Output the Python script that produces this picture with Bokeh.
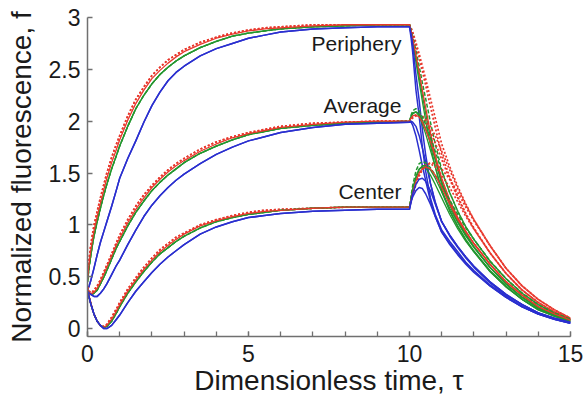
from bokeh.plotting import figure
from bokeh.models import Range1d, FixedTicker, CustomJSTickFormatter, Label
from bokeh.embed import file_html
from bokeh.resources import INLINE

# ---------------- data ----------------
t_rise = [0, 0.05, 0.1, 0.15, 0.2, 0.3, 0.4, 0.5, 0.6, 0.75, 0.9, 1.0, 1.25, 1.5, 1.75,
          2.0, 2.25, 2.5, 2.75, 3.0, 3.5, 4.0, 4.5, 5.0, 5.5, 6.0, 7.0, 8.0, 9.0, 10.0]
t_decay = [10.05, 10.1, 10.2, 10.3, 10.4, 10.5, 10.65, 10.8, 11.0, 11.25, 11.5, 11.75,
           12.0, 12.5, 13.0, 13.5, 14.0, 14.5, 15.0]

# loading phase (tau 0..10)
periphery_rise_red = [0.47, 0.63, 0.75, 0.85, 0.94, 1.08, 1.21, 1.33, 1.45, 1.60, 1.73, 1.82, 2.01, 2.17, 2.30,
                      2.41, 2.49, 2.56, 2.62, 2.67, 2.74, 2.80, 2.84, 2.87, 2.89, 2.90, 2.92, 2.93, 2.93, 2.93]
periphery_rise_green = [0.45, 0.59, 0.70, 0.80, 0.89, 1.03, 1.16, 1.28, 1.39, 1.54, 1.67, 1.76, 1.95, 2.12, 2.25,
                        2.36, 2.45, 2.52, 2.58, 2.63, 2.71, 2.77, 2.82, 2.85, 2.87, 2.89, 2.91, 2.92, 2.93, 2.93]
periphery_rise_dot = [0.50, 0.67, 0.80, 0.90, 0.99, 1.13, 1.26, 1.38, 1.50, 1.65, 1.78, 1.86, 2.05, 2.21, 2.33,
                      2.44, 2.52, 2.59, 2.64, 2.69, 2.76, 2.81, 2.85, 2.88, 2.90, 2.91, 2.93, 2.93, 2.93, 2.93]
periphery_rise_blue = [0.37, 0.41, 0.46, 0.52, 0.58, 0.71, 0.83, 0.93, 1.03, 1.18, 1.34, 1.45, 1.64, 1.81, 1.99,
                       2.15, 2.28, 2.39, 2.47, 2.53, 2.63, 2.70, 2.75, 2.80, 2.83, 2.86, 2.89, 2.90, 2.91, 2.91]

average_rise_red = [0.38, 0.35, 0.34, 0.34, 0.35, 0.39, 0.45, 0.52, 0.59, 0.70, 0.81, 0.87, 1.02, 1.15, 1.26,
                    1.36, 1.44, 1.51, 1.57, 1.62, 1.71, 1.78, 1.84, 1.88, 1.91, 1.94, 1.97, 1.99, 2.00, 2.00]
average_rise_green = [0.37, 0.34, 0.33, 0.33, 0.34, 0.37, 0.43, 0.49, 0.56, 0.67, 0.78, 0.84, 0.99, 1.12, 1.23,
                      1.33, 1.41, 1.48, 1.54, 1.60, 1.69, 1.76, 1.82, 1.87, 1.90, 1.93, 1.96, 1.98, 1.99, 2.00]
average_rise_dot = [0.40, 0.36, 0.35, 0.35, 0.37, 0.41, 0.47, 0.54, 0.61, 0.72, 0.83, 0.90, 1.05, 1.18, 1.29,
                    1.38, 1.46, 1.53, 1.59, 1.64, 1.73, 1.80, 1.85, 1.89, 1.92, 1.95, 1.98, 1.99, 2.00, 2.00]
average_rise_blue = [0.36, 0.34, 0.33, 0.32, 0.31, 0.31, 0.34, 0.38, 0.43, 0.52, 0.61, 0.66, 0.81, 0.95, 1.08,
                     1.19, 1.28, 1.36, 1.43, 1.49, 1.59, 1.68, 1.75, 1.81, 1.85, 1.89, 1.94, 1.97, 1.98, 1.99]

center_rise_red = [0.36, 0.30, 0.24, 0.19, 0.14, 0.07, 0.03, 0.01, 0.03, 0.09, 0.17, 0.23, 0.36, 0.47, 0.57,
                   0.66, 0.74, 0.80, 0.86, 0.91, 0.99, 1.04, 1.08, 1.11, 1.13, 1.14, 1.16, 1.17, 1.17, 1.17]
center_rise_green = [0.36, 0.30, 0.24, 0.19, 0.14, 0.07, 0.03, 0.01, 0.02, 0.07, 0.15, 0.21, 0.34, 0.45, 0.55,
                     0.64, 0.72, 0.78, 0.84, 0.89, 0.97, 1.03, 1.07, 1.10, 1.12, 1.14, 1.16, 1.17, 1.17, 1.17]
center_rise_dot = [0.37, 0.31, 0.25, 0.19, 0.14, 0.07, 0.03, 0.02, 0.04, 0.11, 0.19, 0.25, 0.38, 0.49, 0.59,
                   0.68, 0.76, 0.82, 0.88, 0.92, 1.00, 1.05, 1.09, 1.12, 1.14, 1.15, 1.16, 1.17, 1.17, 1.17]
center_rise_blue = [0.36, 0.30, 0.24, 0.19, 0.14, 0.07, 0.03, 0.00, 0.00, 0.03, 0.09, 0.13, 0.25, 0.36, 0.45,
                    0.54, 0.62, 0.69, 0.75, 0.81, 0.91, 0.98, 1.03, 1.07, 1.09, 1.11, 1.13, 1.14, 1.15, 1.15]

# washout phase (tau > 10), one list per simulated curve
periphery_decay = {
    "red_dot_b":  [2.90, 2.86, 2.76, 2.65, 2.53, 2.41, 2.22, 2.03, 1.78, 1.56, 1.37, 1.20, 1.05, 0.80, 0.58, 0.41, 0.28, 0.18, 0.10],
    "red_dot_a":  [2.89, 2.84, 2.73, 2.61, 2.48, 2.35, 2.14, 1.94, 1.68, 1.46, 1.27, 1.11, 0.97, 0.73, 0.53, 0.37, 0.25, 0.16, 0.09],
    "green_dash": [2.88, 2.82, 2.68, 2.53, 2.37, 2.22, 1.99, 1.78, 1.53, 1.31, 1.13, 0.98, 0.86, 0.65, 0.48, 0.34, 0.23, 0.15, 0.09],
    "green_b":    [2.86, 2.78, 2.61, 2.43, 2.25, 2.08, 1.84, 1.63, 1.39, 1.19, 1.03, 0.90, 0.79, 0.59, 0.43, 0.30, 0.20, 0.13, 0.08],
    "green_a":    [2.85, 2.76, 2.57, 2.38, 2.19, 2.01, 1.77, 1.56, 1.32, 1.13, 0.98, 0.85, 0.74, 0.55, 0.40, 0.28, 0.18, 0.12, 0.07],
    "red":        [2.87, 2.80, 2.64, 2.47, 2.30, 2.13, 1.89, 1.67, 1.42, 1.22, 1.06, 0.93, 0.82, 0.62, 0.45, 0.32, 0.21, 0.14, 0.08],
    "blue_b":     [2.84, 2.74, 2.45, 2.20, 1.92, 1.68, 1.40, 1.21, 1.03, 0.90, 0.79, 0.69, 0.60, 0.45, 0.33, 0.23, 0.15, 0.10, 0.06],
    "blue_a":     [2.80, 2.66, 2.30, 2.05, 1.75, 1.52, 1.26, 1.10, 0.95, 0.84, 0.74, 0.64, 0.56, 0.42, 0.31, 0.21, 0.14, 0.09, 0.05],
}
average_decay = {
    "red_dot_b":  [2.01, 2.03, 2.05, 2.06, 2.05, 2.02, 1.95, 1.86, 1.71, 1.53, 1.35, 1.19, 1.05, 0.80, 0.58, 0.41, 0.28, 0.18, 0.10],
    "red_dot_a":  [2.02, 2.04, 2.06, 2.06, 2.03, 1.99, 1.90, 1.79, 1.63, 1.44, 1.26, 1.10, 0.96, 0.73, 0.53, 0.37, 0.25, 0.16, 0.09],
    "green_dash": [2.06, 2.10, 2.12, 2.10, 2.04, 1.97, 1.85, 1.71, 1.52, 1.31, 1.13, 0.98, 0.86, 0.65, 0.48, 0.34, 0.23, 0.15, 0.09],
    "green_b":    [2.04, 2.07, 2.09, 2.07, 2.01, 1.93, 1.79, 1.63, 1.41, 1.20, 1.04, 0.91, 0.79, 0.59, 0.43, 0.30, 0.20, 0.13, 0.08],
    "green_a":    [2.05, 2.08, 2.09, 2.05, 1.97, 1.88, 1.72, 1.56, 1.34, 1.14, 0.99, 0.86, 0.75, 0.56, 0.41, 0.28, 0.19, 0.12, 0.07],
    "red":        [2.03, 2.05, 2.06, 2.04, 1.99, 1.92, 1.80, 1.66, 1.45, 1.24, 1.07, 0.94, 0.82, 0.62, 0.45, 0.32, 0.21, 0.14, 0.08],
    "blue_b":     [2.00, 1.99, 1.95, 1.86, 1.74, 1.61, 1.40, 1.22, 1.03, 0.90, 0.79, 0.69, 0.60, 0.45, 0.33, 0.23, 0.15, 0.10, 0.06],
    "blue_a":     [1.99, 1.96, 1.86, 1.72, 1.57, 1.43, 1.23, 1.08, 0.93, 0.82, 0.72, 0.63, 0.55, 0.41, 0.30, 0.21, 0.14, 0.09, 0.05],
}
center_decay = {
    "red_dot_b":  [1.22, 1.28, 1.39, 1.47, 1.53, 1.57, 1.60, 1.59, 1.54, 1.44, 1.31, 1.17, 1.04, 0.80, 0.58, 0.41, 0.28, 0.18, 0.10],
    "red_dot_a":  [1.23, 1.30, 1.41, 1.49, 1.55, 1.58, 1.59, 1.56, 1.48, 1.36, 1.22, 1.08, 0.96, 0.73, 0.53, 0.37, 0.25, 0.16, 0.09],
    "green_dash": [1.28, 1.38, 1.52, 1.59, 1.61, 1.60, 1.55, 1.48, 1.37, 1.24, 1.10, 0.97, 0.86, 0.65, 0.48, 0.34, 0.23, 0.15, 0.09],
    "green_b":    [1.25, 1.33, 1.45, 1.53, 1.57, 1.57, 1.53, 1.45, 1.32, 1.16, 1.02, 0.89, 0.78, 0.59, 0.43, 0.30, 0.20, 0.13, 0.08],
    "green_a":    [1.26, 1.35, 1.47, 1.54, 1.56, 1.55, 1.48, 1.39, 1.26, 1.10, 0.96, 0.84, 0.74, 0.55, 0.40, 0.28, 0.18, 0.12, 0.07],
    "red":        [1.24, 1.31, 1.42, 1.50, 1.54, 1.56, 1.54, 1.48, 1.36, 1.20, 1.05, 0.93, 0.82, 0.62, 0.45, 0.32, 0.21, 0.14, 0.08],
    "blue_b":     [1.23, 1.30, 1.39, 1.44, 1.45, 1.42, 1.33, 1.20, 1.03, 0.89, 0.78, 0.68, 0.59, 0.44, 0.32, 0.23, 0.15, 0.10, 0.06],
    "blue_a":     [1.22, 1.27, 1.33, 1.36, 1.35, 1.30, 1.20, 1.08, 0.93, 0.81, 0.71, 0.62, 0.54, 0.41, 0.30, 0.21, 0.14, 0.09, 0.05],
}

group_names = ["Periphery", "Average", "Center"]
x_ticks = [0, 5, 10, 15]
x_minor_ticks = list(range(16))
y_ticks = [0, 0.5, 1, 1.5, 2, 2.5, 3]

# ---------------- styles ----------------
BLUE = "#2a2fcf"
GREEN = "#23962f"
RED = "#e8372c"
styles = {
    "red_dot_b":  dict(color=RED, width=1.7, dash="2 2", rise="dot"),
    "red_dot_a":  dict(color=RED, width=1.7, dash="2 2", rise="dot"),
    "green_dash": dict(color=GREEN, width=1.5, dash="4 2", rise="green"),
    "green_b":    dict(color=GREEN, width=1.3, dash="solid", rise="green"),
    "green_a":    dict(color=GREEN, width=1.3, dash="solid", rise="green"),
    "red":        dict(color=RED, width=1.3, dash="solid", rise="red"),
    "blue_b":     dict(color=BLUE, width=1.5, dash="solid", rise="blue"),
    "blue_a":     dict(color=BLUE, width=1.5, dash="solid", rise="blue"),
}

FONT = "Liberation Sans"

p = figure(width=586, height=404, output_backend="svg", toolbar_location=None,
           x_range=Range1d(0, 15), y_range=Range1d(-0.077, 3.0),
           min_border_left=87, min_border_right=16, min_border_top=17, min_border_bottom=68)
p.outline_line_color = None
p.xgrid.visible = False
p.ygrid.visible = False
p.background_fill_color = "white"
p.border_fill_color = "white"

groups = [
    ({"red": periphery_rise_red, "green": periphery_rise_green, "dot": periphery_rise_dot,
      "blue": periphery_rise_blue}, periphery_decay),
    ({"red": average_rise_red, "green": average_rise_green, "dot": average_rise_dot,
      "blue": average_rise_blue}, average_decay),
    ({"red": center_rise_red, "green": center_rise_green, "dot": center_rise_dot,
      "blue": center_rise_blue}, center_decay),
]
t_all = t_rise + t_decay
for rises, decay in groups:
    for key, st in styles.items():
        p.line(t_all, rises[st["rise"]] + decay[key], line_color=st["color"],
               line_width=st["width"], line_dash=st["dash"], line_join="round")

label_pos = [(9.75, 2.75), (9.75, 2.15), (9.75, 1.32)]
for name, (lx, ly) in zip(group_names, label_pos):
    p.add_layout(Label(x=lx, y=ly, text=name, text_align="right", text_baseline="middle",
                       text_font=FONT, text_font_size="21px", text_color="#1a1a1a"))

fmt = CustomJSTickFormatter(code="return tick.toString();")
for ax in (p.xaxis[0], p.yaxis[0]):
    ax.axis_line_color = "#707070"
    ax.axis_line_width = 1.5
    ax.major_tick_line_color = "#707070"
    ax.minor_tick_line_color = "#707070"
    ax.major_tick_line_width = 1.3
    ax.minor_tick_line_width = 1.3
    ax.major_tick_in = 5
    ax.major_tick_out = 0
    ax.minor_tick_in = 5
    ax.minor_tick_out = 0
    ax.major_label_text_font = FONT
    ax.major_label_text_font_size = "23px"
    ax.major_label_text_color = "#1a1a1a"
    ax.axis_label_text_font = FONT
    ax.axis_label_text_font_size = "28px"
    ax.axis_label_text_font_style = "normal"
    ax.axis_label_text_color = "#1a1a1a"
    ax.formatter = fmt

p.xaxis[0].ticker = FixedTicker(ticks=x_ticks, minor_ticks=x_minor_ticks)
p.yaxis[0].ticker = FixedTicker(ticks=y_ticks)
p.xaxis[0].axis_label = "Dimensionless time, \u03c4"
p.yaxis[0].axis_label = "Normalized fluorescence, f"
p.xaxis[0].major_label_standoff = 8
p.yaxis[0].major_label_standoff = 7
p.xaxis[0].axis_label_standoff = 0
p.yaxis[0].axis_label_standoff = 9

open("out.html", "w").write(file_html(p, INLINE))
